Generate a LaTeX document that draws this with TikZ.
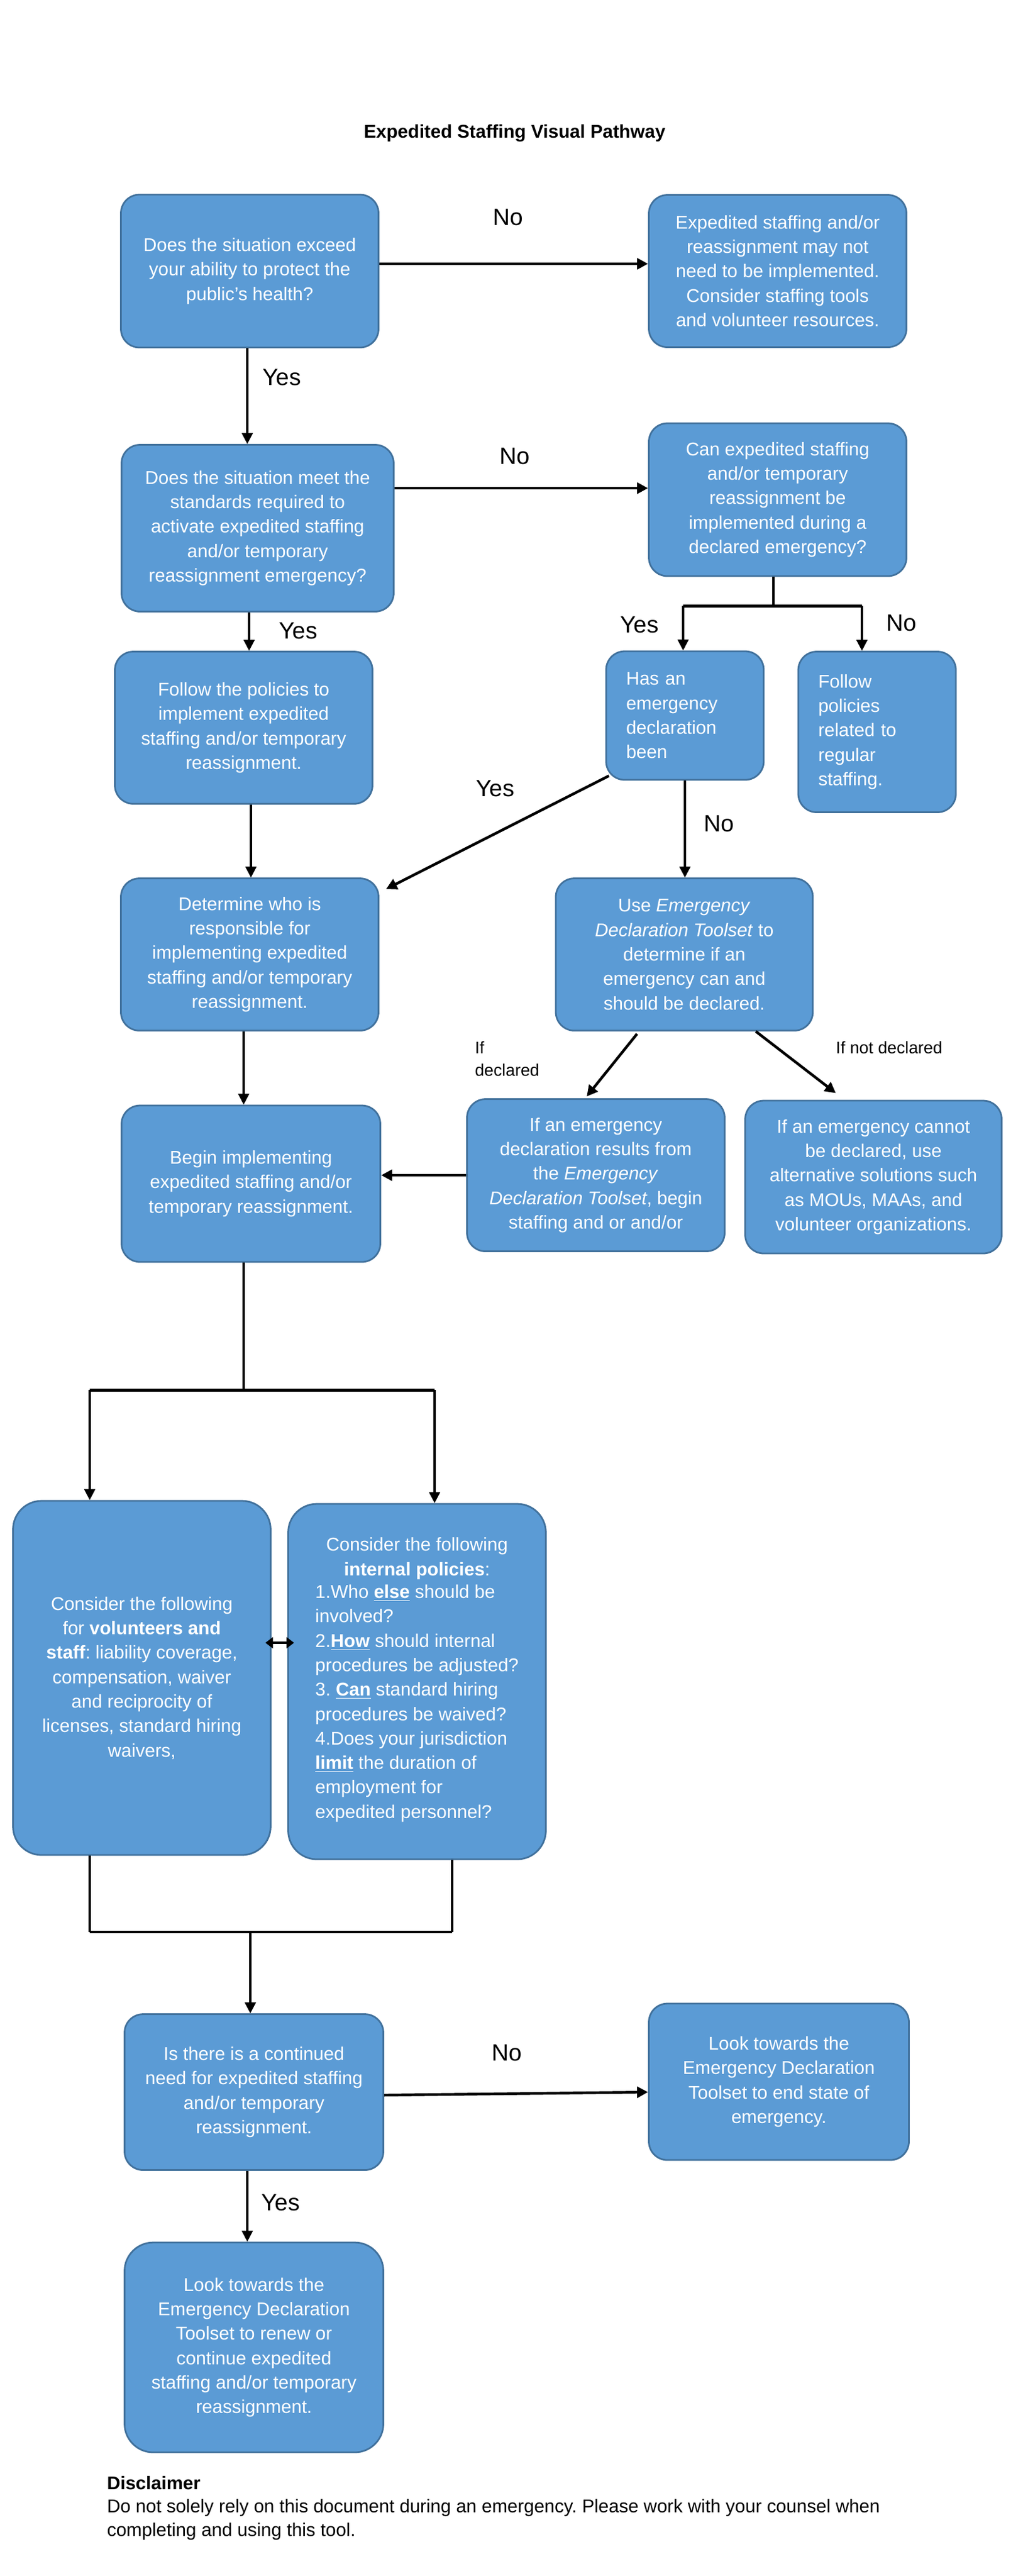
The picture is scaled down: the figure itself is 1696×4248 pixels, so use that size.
\documentclass[tikz,border=0pt]{standalone}
\usepackage{fontspec}
\setmainfont{Liberation Sans}
\usetikzlibrary{arrows.meta,calc}
\definecolor{boxfill}{HTML}{5B9BD5}
\definecolor{boxline}{HTML}{41719C}
\frenchspacing
\begin{document}
\begin{tikzpicture}[x=0.36086pt,y=-0.36086pt,
  bx/.style 2 args={draw=boxline, fill=boxfill, line width=1pt, rounded corners=11pt,
    text=white, align=center, inner sep=0pt,
    minimum width={#1*0.36086pt}, minimum height={#2*0.36086pt},
    font=\fontsize{11}{14.55}\selectfont},
  thn/.style={line width=1.1pt},
  thk/.style={line width=1.6pt},
  arr/.style={-{Triangle[length=6.5pt,width=6.5pt]}},
  lbl/.style={font=\fontsize{14}{17}\selectfont, inner sep=0pt},
  sml/.style={font=\fontsize{10}{13.4}\selectfont, inner sep=0pt}
]
\fill[white] (0,0) rectangle (1696,4248);
\useasboundingbox (0,0) rectangle (1696,4248);

\node[font=\bfseries\fontsize{11}{13}\selectfont] (title) at (849,220) {Expedited Staffing Visual Pathway};

\node[bx={425}{252}] (A) at (412,447) {Does the situation exceed\\your ability to protect the\\public’s health?};
\node[bx={425}{251}] (B) at (1283,447) {Expedited staffing and/or\\reassignment may not\\need to be implemented.\\Consider staffing tools\\and volunteer resources.};
\node[bx={449}{275}] (C) at (425,871) {Does the situation meet the\\standards required to\\activate expedited staffing\\and/or temporary\\reassignment emergency?};
\node[bx={425}{252}] (D) at (1283,824) {Can expedited staffing\\and/or temporary\\reassignment be\\implemented during a\\declared emergency?};
\node[bx={425}{251}] (E) at (402,1200) {Follow the policies to\\implement expedited\\staffing and/or temporary\\reassignment.};
\node[bx={260}{212}, text width=70pt, align=left] (F) at (1130,1180) {Has an\\emergency\\declaration\\been};
\node[bx={260}{265}, text width=70pt, align=left] (G) at (1447,1207) {Follow\\policies\\related to\\regular\\staffing.};
\node[bx={425}{251}] (H) at (412,1574) {Determine who is\\responsible for\\implementing expedited\\staffing and/or temporary\\reassignment.};
\node[bx={424}{251}] (I) at (1129,1574) {Use \textit{Emergency}\\\textit{Declaration Toolset} to\\determine if an\\emergency can and\\should be declared.};
\node[bx={427}{258}] (J) at (414,1952) {Begin implementing\\expedited staffing and/or\\temporary reassignment.};
\node[bx={425}{251}] (K) at (983,1938) {If an emergency\\declaration results from\\the \textit{Emergency}\\\textit{Declaration Toolset}, begin\\staffing and or and/or};
\node[bx={423}{252}] (L) at (1441,1941) {If an emergency cannot\\be declared, use\\alternative solutions such\\as MOUs, MAAs, and\\volunteer organizations.};
\node[bx={425}{584}, rounded corners=17pt] (M) at (234,2767) {Consider the following\\for \textbf{volunteers and}\\\textbf{staff}: liability coverage,\\compensation, waiver\\and reciprocity of\\licenses, standard hiring\\waivers,};
\node[bx={425}{586}, rounded corners=17pt] (N) at (688,2773) {Consider the following\\\textbf{internal policies}:\\\begin{tabular}{@{}l@{}}1.Who \underline{\textbf{else}} should be\\involved?\\2.\underline{\textbf{How}} should internal\\procedures be adjusted?\\3. \underline{\textbf{Can}} standard hiring\\procedures be waived?\\4.Does your jurisdiction\\\underline{\textbf{limit}} the duration of\\employment for\\expedited personnel?\end{tabular}};
\node[bx={427}{257}] (O) at (419,3450) {Is there is a continued\\need for expedited staffing\\and/or temporary\\reassignment.};
\node[bx={429}{258}] (P) at (1285,3433) {Look towards the\\Emergency Declaration\\Toolset to end state of\\emergency.};
\node[bx={427}{346}, rounded corners=17pt] (Q) at (419,3871) {Look towards the\\Emergency Declaration\\Toolset to renew or\\continue expedited\\staffing and/or temporary\\reassignment.};

% labels
\node[lbl] (no1) at (838,358) {No};
\node[lbl] (yes1) at (465,622) {Yes};
\node[lbl] (no2) at (849,752) {No};
\node[lbl] (yes2) at (492,1040) {Yes};
\node[lbl] (yes3) at (1055,1030) {Yes};
\node[lbl] (no3) at (1487,1027) {No};
\node[lbl] (yes4) at (817,1300) {Yes};
\node[lbl] (no4) at (1186,1358) {No};
\node[sml, anchor=west, align=left] (ifd) at (783,1746) {If\\declared};
\node[sml] (ifnd) at (1467,1728) {If not declared};
\node[lbl] (no5) at (836,3385) {No};
\node[lbl] (yes5) at (463,3632) {Yes};

\node[anchor=west, align=left, font=\fontsize{11}{13.9}\selectfont, inner sep=0pt] (disc) at (176,4136) {\textbf{Disclaimer}\\Do not solely rely on this document during an emergency. Please work with your counsel when\\completing and using this tool.};

% connectors
\draw[thk,arr] ([yshift=4.33pt]A.east) -- ([yshift=4.33pt]B.west);
\coordinate (a1) at ($(A.south)+(-4,0)$);
\draw[thn,arr] (a1) -- (a1 |- C.north);

\coordinate (c2) at ($(C.east)+(0,-66)$);
\draw[thk,arr] (c2) -- (c2 -| D.west);

\coordinate (d1) at ($(D.south)+(-7,48)$);
\draw[thn] (D.south -| d1) -- (d1);
\coordinate (gtop) at ($(G.north)+(-25,0)$);
\coordinate (ftop) at ($(F.north)+(-3,0)$);
\draw[thk] (ftop |- d1) -- (gtop |- d1);
\draw[thn,arr] (ftop |- d1) -- (ftop);
\draw[thn,arr] (gtop |- d1) -- (gtop);

\coordinate (c1) at ($(C.south)+(-14,0)$);
\draw[thn,arr] (c1) -- (c1 |- E.north);
\coordinate (e1) at ($(E.south)+(12,0)$);
\draw[thn,arr] (e1) -- (e1 |- H.north);

\draw[thk,arr] ($(F.south west)+(6,-8)$) -- ($(H.north east)+(11,19)$);
\draw[thn,arr] (F.south) -- (F.south |- I.north);

\coordinate (h1) at ($(H.south)+(-10,0)$);
\draw[thn,arr] (h1) -- (h1 |- J.north);

\draw[thk,arr] ($(I.south)+(-78,4)$) -- ($(K.north)+(-15,-3)$);
\draw[thk,arr] ($(I.south)+(118,0)$) -- ($(L.north)+(-62,-11)$);
\draw[thk,arr] (K.west) -- (K.west -| J.east);

\coordinate (j1) at ($(J.south)+(-12,210)$);
\draw[thn] (J.south -| j1) -- (j1);
\coordinate (mtop) at ($(M.north)+(-86,0)$);
\coordinate (ntop) at ($(N.north)+(29,0)$);
\draw[thk] (mtop |- j1) -- (ntop |- j1);
\draw[thn,arr] (mtop |- j1) -- (mtop);
\draw[thn,arr] (ntop |- j1) -- (ntop);

\draw[thk,{Triangle[length=4.5pt,width=6.5pt]}-{Triangle[length=4.5pt,width=6.5pt]}] ($(M.east)+(-10,-58)$) -- ($(N.west)+(11,-64)$);

\coordinate (mbot) at ($(M.south)+(-86,0)$);
\coordinate (nbot) at ($(N.south)+(58,0)$);
\coordinate (b2) at ($(O.north)+(-6,-134)$);
\draw[thn] (mbot) -- (mbot |- b2);
\draw[thn] (nbot) -- (nbot |- b2);
\draw[thk] (mbot |- b2) -- (nbot |- b2);
\draw[thn,arr] (b2) -- (b2 |- O.north);

\draw[thk,arr] ($(O.east)+(0,5)$) -- ($(P.west)+(0,17)$);
\coordinate (o1) at ($(O.south)+(-11,0)$);
\draw[thn,arr] (o1) -- (o1 |- Q.north);
\end{tikzpicture}
\end{document}
